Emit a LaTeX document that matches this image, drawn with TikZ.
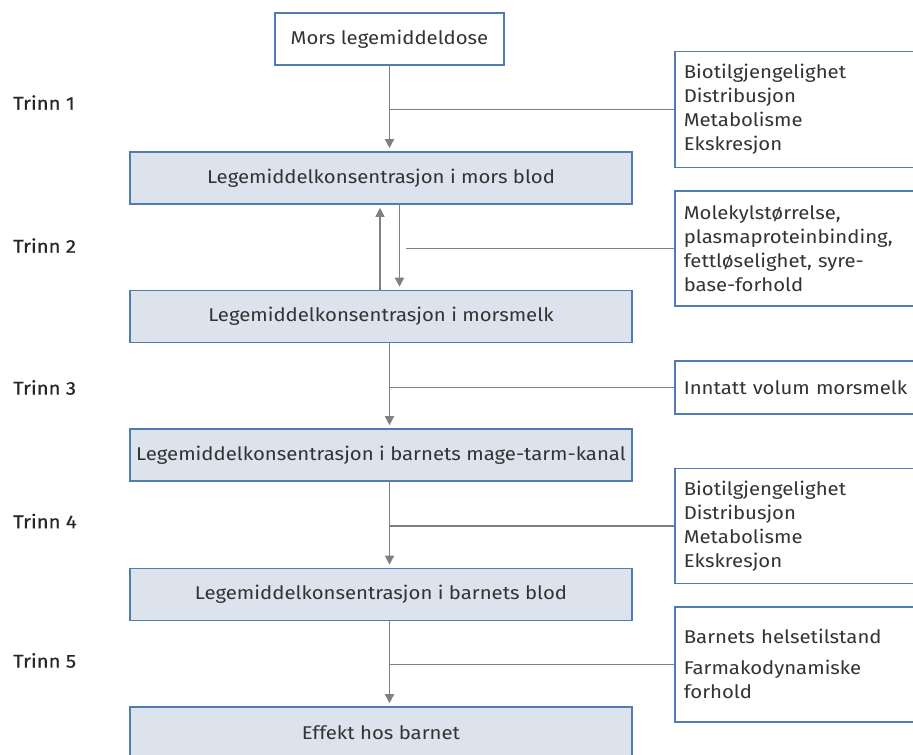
\documentclass[tikz,border=0pt]{standalone}
\usepackage{fontspec}
\setmainfont{Fira Sans}[FakeStretch=1.1]
\newfontfamily\trinnfont{Fira Sans}[FakeStretch=1.1, FakeBold=0.6]
\usetikzlibrary{arrows.meta,calc}

\definecolor{rammeblaa}{HTML}{4F7DB3}
\definecolor{boksfyll}{HTML}{DCE3ED}
\definecolor{pilgraa}{HTML}{7D8085}
\definecolor{tekstgraa}{HTML}{333333}

\tikzset{
  boks/.style={draw=rammeblaa, line width=1.6pt, fill=boksfyll, minimum width=502pt,
    minimum height=52pt, text=tekstgraa, font=\fontsize{18.5}{22}\selectfont},
  startboks/.style={boks, fill=white, minimum width=229pt},
  faktor/.style={draw=rammeblaa, line width=1.6pt, fill=white, anchor=north west,
    text width=230pt, inner xsep=9pt, align=left, text=tekstgraa,
    font=\fontsize{18.5}{24}\selectfont},
  trinn/.style={anchor=west, inner sep=0pt, text=black!85,
    font=\trinnfont\fontsize{18.5}{22}\selectfont},
  linje/.style={draw=pilgraa, line width=1.5pt},
  pil/.style={linje, -{Triangle[width=9pt,length=9pt]}, shorten >=3pt},
}

\begin{document}
\begin{tikzpicture}[x=1pt,y=-1pt]
\useasboundingbox (0,0) rectangle (913,755);

% hovedkjeden
\node[startboks] (dose) at (389.5,39) {Mors legemiddeldose};
\node[boks] (blod) at (381,178) {Legemiddelkonsentrasjon i mors blod};
\node[boks] (melk) at (381,316.5) {Legemiddelkonsentrasjon i morsmelk};
\node[boks] (tarm) at (381,455) {Legemiddelkonsentrasjon i barnets mage-tarm-kanal};
\node[boks] (barnblod) at (381,594.5) {Legemiddelkonsentrasjon i barnets blod};
\node[boks] (effekt) at (381,733) {Effekt hos barnet};

% faktorer til hoyre
\node[faktor, minimum height=116pt] (fak1) at (674,50.5)
  {Biotilgjengelighet\\Distribusjon\\Metabolisme\\Ekskresjon};
\node[faktor, minimum height=115pt] (fak2) at (674,190)
  {Molekylstørrelse,\\plasmaproteinbinding,\\fettløselighet, syre-\\base-forhold};
\node[faktor, minimum height=53pt] (fak3) at (674,360) {Inntatt volum morsmelk};
\node[faktor, minimum height=115pt] (fak4) at (674,467.5)
  {Biotilgjengelighet\\Distribusjon\\Metabolisme\\Ekskresjon};
\node[faktor, minimum height=115pt] (fak5) at (674,606)
  {Barnets helsetilstand\\[7pt]Farmakodynamiske\\forhold};

% trinn
\node[trinn] (t1) at (13,102.5) {Trinn 1};
\node[trinn] (t2) at (13,245.5) {Trinn 2};
\node[trinn] (t3) at (13,387.5) {Trinn 3};
\node[trinn] (t4) at (13,521) {Trinn 4};
\node[trinn] (t5) at (13,660.5) {Trinn 5};

% trinn 1
\draw[pil] (dose.south) -- (dose.south |- blod.north);
\draw[linje] (fak1.west) -- (fak1.west -| dose.south);

% trinn 2
\coordinate (opp) at ($(dose.south |- melk.north)+(-9.5,0)$);
\coordinate (ned) at ($(dose.south |- blod.south)+(10,0)$);
\draw[pil] (opp) -- (opp |- blod.south);
\draw[pil] (ned) -- (ned |- melk.north);
\draw[linje] (fak2.west) -- ($(fak2.west -| ned)+(6,0)$);

% trinn 3
\draw[pil] (melk.south -| dose.south) -- (dose.south |- tarm.north);
\draw[linje] (fak3.west) -- (fak3.west -| dose.south);

% trinn 4
\draw[pil] (tarm.south -| dose.south) -- (dose.south |- barnblod.north);
\draw[linje] (fak4.west) -- (fak4.west -| dose.south);

% trinn 5
\draw[pil] (barnblod.south -| dose.south) -- (dose.south |- effekt.north);
\draw[linje] (fak5.west) -- (fak5.west -| dose.south);

\end{tikzpicture}
\end{document}
